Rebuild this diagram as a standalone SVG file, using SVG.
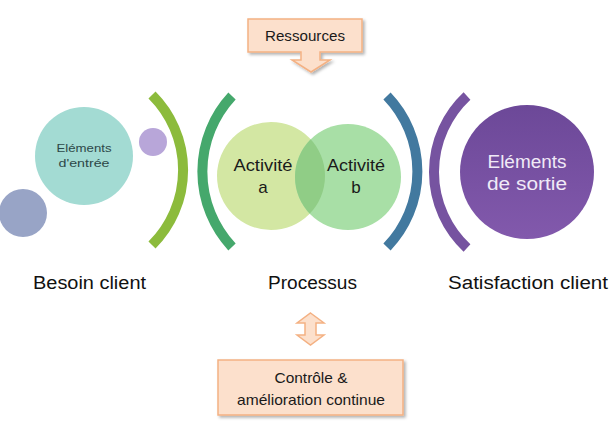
<svg xmlns="http://www.w3.org/2000/svg" width="613" height="435" viewBox="0 0 613 435">
<style>
text{font-family:"Liberation Sans",Arial,sans-serif;}
.arc{fill:none;stroke-width:10;}
.box{fill:#FCE0CC;stroke:#F4B183;stroke-width:1.5;}
.lbl{font-size:18px;fill:#111;}
.t{fill:#1a1a1a;text-anchor:middle;}
.tin{fill:#2D4848;text-anchor:middle;}
.tout{fill:#F0EAF7;text-anchor:middle;}
</style>
<defs>
<linearGradient id="pg" x1="0" y1="0" x2="0" y2="1">
<stop offset="0" stop-color="#6C4898"/>
<stop offset="1" stop-color="#8259AC"/>
</linearGradient>
<clipPath id="clipA"><circle cx="271" cy="176" r="54"/></clipPath>
<filter id="sh" x="-10%" y="-10%" width="130%" height="140%">
<feDropShadow dx="2" dy="2" stdDeviation="1.5" flood-color="#000" flood-opacity="0.3"/>
</filter>
</defs>
<rect width="613" height="435" fill="#fff"/>

<g id="input-small-circles">
<circle cx="23" cy="213" r="24" fill="#98A4C6"/>
<circle cx="153" cy="142" r="14" fill="#B8A6D9"/>
</g>
<g id="elements-entree">
<circle cx="84" cy="156" r="49" fill="#A3DBD3"/>
<text class="tin" x="84" y="152" font-size="11.5" textLength="55" lengthAdjust="spacingAndGlyphs">Eléments</text>
<text class="tin" x="84" y="167" font-size="11.5" textLength="51" lengthAdjust="spacingAndGlyphs">d'entrée</text>
</g>

<g id="arcs">
<path class="arc" stroke="#8CBB3C" d="M152,95 A106,106 0 0 1 152,245"/>
<path class="arc" stroke="#45A86C" d="M232,96 A111,111 0 0 0 232,247"/>
<path class="arc" stroke="#42799F" d="M387,96 A109,109 0 0 1 387,247"/>
<path class="arc" stroke="#7653A0" d="M467,96 A104,104 0 0 0 467,248"/>
</g>

<g id="activite-a">
<circle cx="271" cy="176" r="54" fill="#D3E7A3"/>
</g>
<g id="activite-b">
<circle cx="348" cy="177" r="53" fill="#A8DFA6"/>
<circle cx="348" cy="177" r="53" fill="#90CD86" clip-path="url(#clipA)"/>
<text class="t" x="263" y="171" font-size="17" textLength="59" lengthAdjust="spacingAndGlyphs">Activité</text>
<text class="t" x="263" y="193" font-size="17">a</text>
<text class="t" x="356" y="171" font-size="17" textLength="58" lengthAdjust="spacingAndGlyphs">Activité</text>
<text class="t" x="356" y="193" font-size="17">b</text>
</g>

<g id="elements-sortie">
<circle cx="527" cy="172" r="67" fill="url(#pg)"/>
<text class="tout" x="527" y="168" font-size="18" textLength="79" lengthAdjust="spacingAndGlyphs">Eléments</text>
<text class="tout" x="527" y="190" font-size="18" textLength="80" lengthAdjust="spacingAndGlyphs">de sortie</text>
</g>

<g id="ressources">
<path class="box" filter="url(#sh)" d="M248,19 H362 V52 H320 V60 H330 L311,72 L292,60 H301 V52 H248 Z"/>
<text class="t" x="305" y="41" font-size="15" textLength="80" lengthAdjust="spacingAndGlyphs">Ressources</text>
</g>

<g id="double-arrow">
<path class="box" d="M310.5,313 L324,323 H316 V335 H324 L310.5,345 L297,335 H305 V323 H297 Z"/>
</g>

<g id="controle">
<rect class="box" filter="url(#sh)" x="218" y="360" width="185" height="55"/>
<text class="t" x="311" y="383" font-size="14.5" textLength="73" lengthAdjust="spacingAndGlyphs">Contrôle &amp;</text>
<text class="t" x="311" y="405" font-size="14.5" textLength="148" lengthAdjust="spacingAndGlyphs">amélioration continue</text>
</g>

<g id="labels">
<text class="lbl" x="33" y="289" textLength="113" lengthAdjust="spacingAndGlyphs">Besoin client</text>
<text class="lbl" x="268" y="289" textLength="89" lengthAdjust="spacingAndGlyphs">Processus</text>
<text class="lbl" x="448" y="289" textLength="160" lengthAdjust="spacingAndGlyphs">Satisfaction client</text>
</g>
</svg>
